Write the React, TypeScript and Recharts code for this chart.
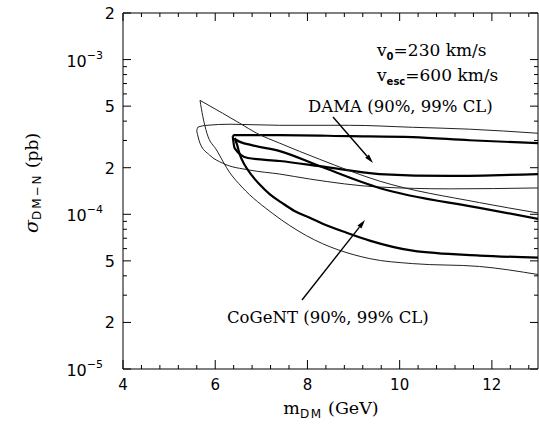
import React from 'react';
import { ComposedChart, Line, XAxis, YAxis, ReferenceLine } from 'recharts';

// axis ticks
const xTicks = [4, 4.4, 4.8, 5.2, 5.6, 6, 6.4, 6.8, 7.2, 7.6, 8, 8.4, 8.8, 9.2, 9.6, 10, 10.4, 10.8, 11.2, 11.6, 12, 12.4, 12.8];
const xMajor = [4, 6, 8, 10, 12];
const yTicks = [
  1e-5, 2e-5, 3e-5, 4e-5, 5e-5, 6e-5, 7e-5, 8e-5, 9e-5,
  1e-4, 2e-4, 3e-4, 4e-4, 5e-4, 6e-4, 7e-4, 8e-4, 9e-4,
  1e-3, 2e-3,
];

// DAMA 99% CL (thin)
const damaOuterTopX = [5.6, 5.62, 5.82, 6.32, 7.4, 8.91, 10.28, 11.51, 13];
const damaOuterTopY = [3.44e-4, 3.65e-4, 3.76e-4, 3.82e-4, 3.76e-4, 3.76e-4, 3.65e-4, 3.55e-4, 3.34e-4];
const damaOuterBottomX = [5.6, 5.67, 5.88, 6.16, 6.75, 7.4, 8.05, 9.56, 11.08, 13];
const damaOuterBottomY = [3.44e-4, 2.88e-4, 2.41e-4, 2.14e-4, 1.93e-4, 1.82e-4, 1.69e-4, 1.5e-4, 1.46e-4, 1.48e-4];

// DAMA 90% CL (thick)
const damaInnerTopX = [6.38, 6.42, 7.4, 8.91, 10.28, 11.51, 13];
const damaInnerTopY = [3.2e-4, 3.25e-4, 3.25e-4, 3.2e-4, 3.15e-4, 3.01e-4, 2.88e-4];
const damaInnerBottomX = [6.38, 6.42, 6.71, 7.4, 8.26, 9.56, 11.08, 13];
const damaInnerBottomY = [3.2e-4, 2.68e-4, 2.31e-4, 2.21e-4, 2.05e-4, 1.82e-4, 1.77e-4, 1.82e-4];

// CoGeNT 99% CL (thin)
const cogentOuterTopX = [5.67, 6.16, 6.53, 6.9, 7.4, 8.26, 9.56, 11.73, 13];
const cogentOuterTopY = [5.45e-4, 4.5e-4, 3.88e-4, 3.34e-4, 2.88e-4, 2.27e-4, 1.64e-4, 1.19e-4, 1.02e-4];
const cogentOuterBottomX = [5.67, 5.73, 5.82, 6.03, 6.32, 6.58, 7.25, 7.98, 9.35, 10.28, 11.73, 13];
const cogentOuterBottomY = [5.45e-4, 4.3e-4, 3.34e-4, 2.6e-4, 1.85e-4, 1.5e-4, 1.01e-4, 7.27e-5, 5.17e-5, 4.8e-5, 4.6e-5, 4.08e-5];

// CoGeNT 90% CL (thick)
const cogentInnerTopX = [6.42, 6.47, 6.79, 7.4, 8.26, 9.56, 11.73, 13];
const cogentInnerTopY = [3.1e-4, 3.01e-4, 2.8e-4, 2.56e-4, 2.05e-4, 1.48e-4, 1.1e-4, 9.35e-5];
const cogentInnerBottomX = [6.42, 6.47, 6.53, 6.64, 6.79, 6.97, 7.18, 7.44, 7.72, 8.05, 8.33, 8.85, 9.35, 10.28, 11.73, 13];
const cogentInnerBottomY = [3.1e-4, 2.84e-4, 2.45e-4, 2.08e-4, 1.79e-4, 1.55e-4, 1.35e-4, 1.19e-4, 1.05e-4, 9.49e-5, 8.69e-5, 7.6e-5, 6.76e-5, 5.82e-5, 5.41e-5, 5.25e-5];

const toPoints = (xs: number[], ys: number[]) => xs.map((x, i) => ({ x, y: ys[i] }));

const curves = [
  { key: 'damaOuterTop', data: toPoints(damaOuterTopX, damaOuterTopY), thick: false },
  { key: 'damaOuterBottom', data: toPoints(damaOuterBottomX, damaOuterBottomY), thick: false },
  { key: 'damaInnerTop', data: toPoints(damaInnerTopX, damaInnerTopY), thick: true },
  { key: 'damaInnerBottom', data: toPoints(damaInnerBottomX, damaInnerBottomY), thick: true },
  { key: 'cogentOuterTop', data: toPoints(cogentOuterTopX, cogentOuterTopY), thick: false },
  { key: 'cogentOuterBottom', data: toPoints(cogentOuterBottomX, cogentOuterBottomY), thick: false },
  { key: 'cogentInnerTop', data: toPoints(cogentInnerTopX, cogentInnerTopY), thick: true },
  { key: 'cogentInnerBottom', data: toPoints(cogentInnerBottomX, cogentInnerBottomY), thick: true },
];

const NUM_FONT = '"DejaVu Sans", sans-serif';
const TXT_FONT = '"DejaVu Serif", serif';

const WIDTH = 539;
const HEIGHT = 434;
const PLOT = { left: 123, right: 538, top: 13, bottom: 369 };
const X_DOMAIN = [4, 13];
const Y_DOMAIN = [1e-5, 2e-3];

const decade = (v: number) => {
  const e = Math.floor(Math.log10(v) + 1e-6);
  return { e, m: Math.round(v / Math.pow(10, e)) };
};
const isMajorY = (v: number) => [1, 2, 5].includes(decade(v).m);

// frame ticks use the same linear / log mapping as the chart's axes
const tickX = (v: number) => PLOT.left + ((v - X_DOMAIN[0]) / (X_DOMAIN[1] - X_DOMAIN[0])) * (PLOT.right - PLOT.left);
const tickY = (v: number) =>
  PLOT.bottom -
  ((Math.log10(v) - Math.log10(Y_DOMAIN[0])) / (Math.log10(Y_DOMAIN[1]) - Math.log10(Y_DOMAIN[0]))) * (PLOT.bottom - PLOT.top);

const LeftTickLabel = (props: any) => {
  const { x, y, payload } = props;
  const ax = Number(x) + 8;
  const { e, m } = decade(payload.value);
  if (m === 1)
    return (
      <text x={ax - 20} y={Number(y) + 7} textAnchor="end" fontFamily={NUM_FONT} fontSize={16} fill="#000">
        10<tspan fontSize={11} dy={-8}>{'\u2212' + -e}</tspan>
      </text>
    );
  if (m === 2 || m === 5)
    return (
      <text x={ax - 8} y={Number(y) + 6} textAnchor="end" fontFamily={NUM_FONT} fontSize={16} fill="#000">
        {m}
      </text>
    );
  return <g />;
};

const BottomTickLabel = (props: any) => {
  const { x, y, payload } = props;
  if (!xMajor.includes(payload.value)) return <g />;
  return (
    <text x={x} y={Number(y) - 8 + 21} textAnchor="middle" fontFamily={NUM_FONT} fontSize={15} fill="#000">
      {payload.value}
    </text>
  );
};

const arrowHead = (x1: number, y1: number, x2: number, y2: number) => {
  const a = Math.atan2(y2 - y1, x2 - x1);
  const c = Math.cos(a);
  const s = Math.sin(a);
  const bx = x2 - 9 * c;
  const by = y2 - 9 * s;
  return (
    <g>
      <line x1={x1} y1={y1} x2={bx} y2={by} stroke="#000" strokeWidth={1.4} />
      <polygon points={`${x2},${y2} ${bx - 2.5 * s},${by + 2.5 * c} ${bx + 2.5 * s},${by - 2.5 * c}`} fill="#000" />
    </g>
  );
};

const sub = (t: string) => (
  <tspan fontFamily={NUM_FONT} fontWeight="bold" fontSize={10} dy={4}>
    {t}
  </tspan>
);

// inward frame ticks, titles and annotations
const Overlay = () => {
  let d = '';
  xTicks.forEach((v) => {
    const px = tickX(v);
    const major = xMajor.includes(v);
    d += `M${px},${PLOT.bottom}V${PLOT.bottom - (major ? 9 : 4)}`;
    d += `M${px},${PLOT.top}V${PLOT.top + (major ? 8 : 4)}`;
  });
  yTicks.forEach((v) => {
    const py = tickY(v);
    const len = isMajorY(v) ? 8 : 4;
    d += `M${PLOT.left},${py}H${PLOT.left + len}`;
    d += `M${PLOT.right},${py}H${PLOT.right - len}`;
  });
  return (
    <svg width={WIDTH} height={HEIGHT} style={{ position: 'absolute', left: 0, top: 0, pointerEvents: 'none' }}>
      <path d={d} stroke="#000" strokeWidth={1} fill="none" />
      <text x={331} y={414} textAnchor="middle" fontFamily={TXT_FONT} fontSize={17.5} fill="#000">
        m
        <tspan fontFamily={NUM_FONT} fontSize={12} letterSpacing={1.5} dy={4}>DM</tspan>
        <tspan dy={-4}>{'\u00a0(GeV)'}</tspan>
      </text>
      <text transform="translate(38, 183) rotate(-90)" textAnchor="middle" fontFamily={TXT_FONT} fontSize={17} fill="#000">
        <tspan fontStyle="italic" fontSize={19}>σ</tspan>
        <tspan fontFamily={NUM_FONT} fontSize={12} letterSpacing={2} dy={3}>DM−N</tspan>
        <tspan dy={-3}>{'\u00a0(pb)'}</tspan>
      </text>
      <text x={377} y={56} fontFamily={TXT_FONT} fontSize={17} fill="#000">
        v{sub('0')}<tspan dy={-4}>=230 km/s</tspan>
      </text>
      <text x={377} y={81} fontFamily={TXT_FONT} fontSize={17} fill="#000">
        v{sub('esc')}<tspan dy={-4}>=600 km/s</tspan>
      </text>
      <text x={308} y={112} fontFamily={TXT_FONT} fontSize={16.5} fill="#000">DAMA (90%, 99% CL)</text>
      <text x={227} y={323} fontFamily={TXT_FONT} fontSize={16.5} fill="#000">CoGeNT (90%, 99% CL)</text>
      {arrowHead(333, 117, 373, 163)}
      {arrowHead(302, 300, 365, 220)}
    </svg>
  );
};

export default function App() {
  return (
    <div style={{ position: 'absolute', left: 0, top: 0 }}>
      <ComposedChart width={WIDTH} height={HEIGHT} margin={{ top: 13, right: 1, bottom: 0, left: 0 }}>
        <XAxis
          dataKey="x"
          type="number"
          domain={X_DOMAIN}
          allowDataOverflow
          ticks={xTicks}
          interval={0}
          tickSize={6}
          tickMargin={2}
          tickLine={{ stroke: 'none' }}
          tick={<BottomTickLabel />}
          height={65}
          axisLine={{ stroke: '#000' }}
        />
        <YAxis
          type="number"
          scale="log"
          domain={Y_DOMAIN}
          allowDataOverflow
          ticks={yTicks}
          interval={0}
          tickSize={6}
          tickMargin={2}
          tickLine={{ stroke: 'none' }}
          tick={<LeftTickLabel />}
          width={123}
          axisLine={{ stroke: '#000' }}
        />
        <ReferenceLine y={2e-3} stroke="#000" strokeWidth={1} />
        <ReferenceLine x={13} stroke="#000" strokeWidth={1} />
        {curves.map((c) => (
          <Line
            key={c.key}
            data={c.data}
            dataKey="y"
            type="monotone"
            stroke={c.thick ? '#000' : '#222'}
            strokeWidth={c.thick ? 2.2 : 1}
            dot={false}
            isAnimationActive={false}
          />
        ))}
      </ComposedChart>
      <Overlay />
    </div>
  );
}
